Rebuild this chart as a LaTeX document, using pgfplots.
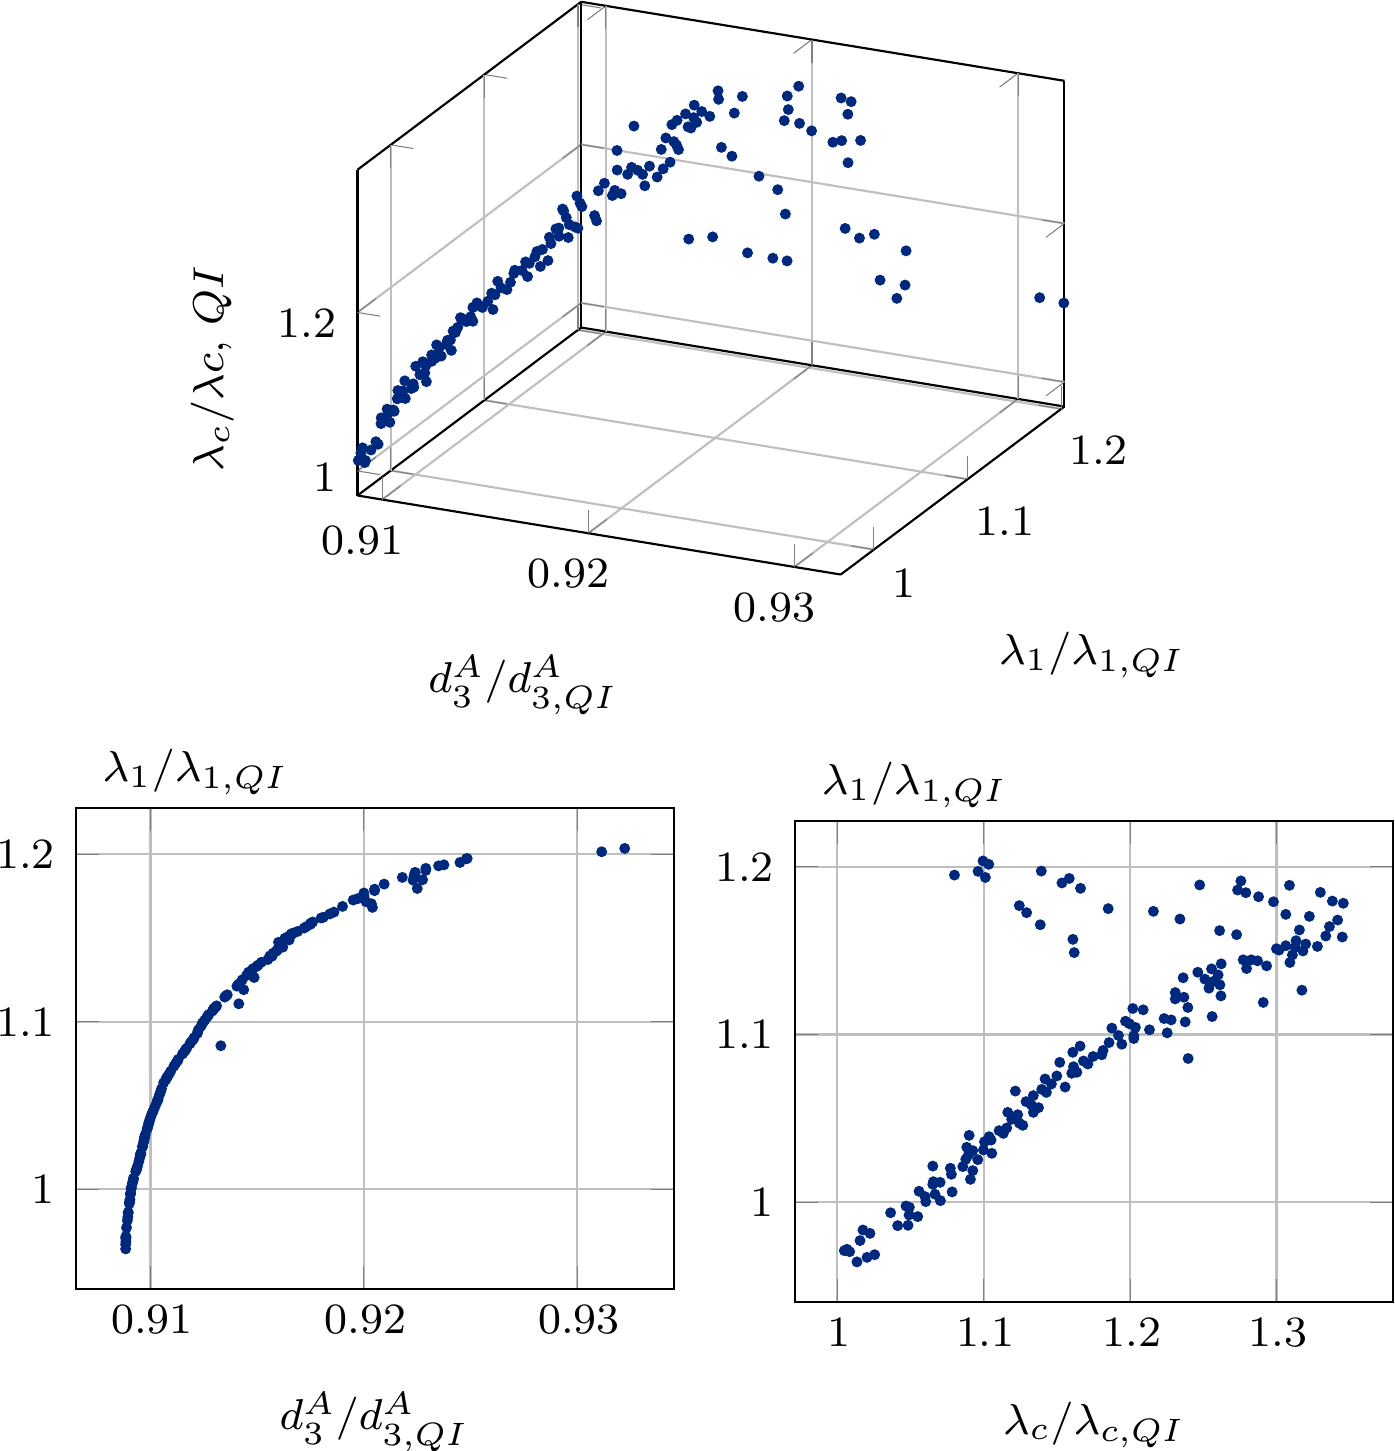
\documentclass[border=0pt]{standalone}
\usepackage{pgfplots}
\usepackage{pgfplotstable}
\pgfplotsset{compat=1.18}
\definecolor{dotblue}{RGB}{0,40,125}
% d3 ratio, lambda_1 ratio, lambda_c ratio
\pgfplotstableread{
d l c
0.90885 0.9712 1.0048
0.90885 0.9720 1.0066
0.90885 0.9706 1.0084
0.90884 0.9645 1.0134
0.90884 0.9672 1.0203
0.90885 0.9688 1.0255
0.90888 0.9772 1.0155
0.90894 0.9835 1.0175
0.90892 0.9815 1.0223
0.90904 0.9938 1.0364
0.90896 0.9861 1.0412
0.90896 0.9863 1.0483
0.90902 0.9925 1.0490
0.90907 0.9978 1.0469
0.90906 0.9970 1.0492
0.90901 0.9915 1.0549
0.90910 1.0004 1.0604
0.90915 1.0034 1.0599
0.90921 1.0066 1.0558
0.90918 1.0048 1.0667
0.90910 1.0010 1.0704
0.90920 1.0062 1.0784
0.90931 1.0107 1.0652
0.90936 1.0123 1.0656
0.90935 1.0119 1.0702
0.90955 1.0216 1.0652
0.90953 1.0203 1.0772
0.90946 1.0167 1.0779
0.90954 1.0213 1.0857
0.90939 1.0137 1.0909
0.90950 1.0189 1.0925
0.90963 1.0254 1.0959
0.90963 1.0256 1.0877
0.90968 1.0282 1.0895
0.90976 1.0328 1.0884
0.90972 1.0308 1.0925
0.90993 1.0399 1.0900
0.90973 1.0312 1.0998
0.90970 1.0292 1.1055
0.90985 1.0361 1.1005
0.90992 1.0391 1.1037
0.90987 1.0371 1.1050
0.91000 1.0427 1.1105
0.90996 1.0411 1.1134
0.91004 1.0443 1.1157
0.91035 1.0536 1.1164
0.91022 1.0495 1.1191
0.91031 1.0522 1.1232
0.91014 1.0471 1.1244
0.91010 1.0459 1.1267
0.91075 1.0663 1.1216
0.91052 1.0600 1.1289
0.91062 1.0636 1.1339
0.91047 1.0580 1.1326
0.91035 1.0536 1.1339
0.91042 1.0564 1.1374
0.91080 1.0673 1.1396
0.91072 1.0655 1.1428
0.91110 1.0735 1.1419
0.91095 1.0705 1.1462
0.91119 1.0753 1.1499
0.91087 1.0687 1.1556
0.91165 1.0834 1.1519
0.91128 1.0769 1.1601
0.91150 1.0808 1.1613
0.91130 1.0775 1.1636
0.91200 1.0894 1.1608
0.91220 1.0931 1.1658
0.91170 1.0842 1.1681
0.91160 1.0824 1.1711
0.91185 1.0869 1.1747
0.91190 1.0879 1.1806
0.91205 1.0905 1.1815
0.91225 1.0952 1.1856
0.91222 1.0942 1.1943
0.91245 1.0994 1.1920
0.91270 1.1038 1.1875
0.91298 1.1079 1.1968
0.91290 1.1064 1.1995
0.91354 1.1155 1.2018
0.91273 1.1042 1.2036
0.91245 1.0992 1.2025
0.91238 1.0976 1.2025
0.91348 1.1147 1.2089
0.91265 1.1028 1.2132
0.91310 1.1095 1.2232
0.91305 1.1087 1.2280
0.91255 1.1010 1.2253
0.91295 1.1075 1.2376
0.91330 1.0857 1.2396
0.91430 1.1250 1.2308
0.91405 1.1212 1.2308
0.91412 1.1222 1.2367
0.91360 1.1161 1.2394
0.91505 1.1338 1.2362
0.91550 1.1371 1.2462
0.91498 1.1330 1.2510
0.91570 1.1391 1.2556
0.91520 1.1355 1.2601
0.91480 1.1316 1.2567
0.91460 1.1296 1.2613
0.91450 1.1276 1.2538
0.91420 1.1230 1.2620
0.91414 1.1107 1.2560
0.91590 1.1421 1.2622
0.91560 1.1393 1.2795
0.91620 1.1445 1.2772
0.91610 1.1445 1.2827
0.91600 1.1439 1.2870
0.91575 1.1409 1.2932
0.91437 1.1191 1.2909
0.91595 1.1429 1.3091
0.91486 1.1264 1.3173
0.92450 1.1950 1.0800
0.93222 1.2034 1.0995
0.93114 1.2014 1.1034
0.92480 1.1972 1.0961
0.92375 1.1936 1.1011
0.92484 1.1974 1.1393
0.92290 1.1903 1.1534
0.92350 1.1930 1.1584
0.92235 1.1871 1.1661
0.92000 1.1768 1.1243
0.91950 1.1726 1.1293
0.91860 1.1654 1.1386
0.91730 1.1567 1.1609
0.91650 1.1488 1.1618
0.92000 1.1750 1.1850
0.91970 1.1734 1.2159
0.91900 1.1688 1.2340
0.92240 1.1891 1.2475
0.92290 1.1915 1.2756
0.92180 1.1861 1.2734
0.92230 1.1845 1.2790
0.92095 1.1821 1.2877
0.92050 1.1791 1.2979
0.92240 1.1889 1.3088
0.92275 1.1847 1.3299
0.92250 1.1795 1.3381
0.92050 1.1782 1.3456
0.92010 1.1716 1.3063
0.92035 1.1704 1.3224
0.92040 1.1682 1.3417
0.91840 1.1643 1.3361
0.91810 1.1623 1.3156
0.91800 1.1619 1.2611
0.91760 1.1595 1.2727
0.91750 1.1587 1.3336
0.91750 1.1581 1.3449
0.91720 1.1559 1.3133
0.91690 1.1539 1.3199
0.91660 1.1525 1.3279
0.91650 1.1511 1.2999
0.91640 1.1503 1.3017
0.91670 1.1529 1.3063
0.91660 1.1519 1.3127
0.91630 1.1498 1.3180
0.91600 1.1474 1.3108
}\pts
\pgfplotsset{
  dots/.style={only marks, mark=*, mark size=0.8pt, color=dotblue},
  /pgf/number format/assume math mode=true,
}
\begin{document}
\fontsize{8}{10}\selectfont
\begin{tikzpicture}
\begin{axis}[
    anchor=south west, at={(66.2pt,162.31pt)},
    x={(3816pt,-624pt)}, y={(173.4pt,130.2pt)}, z={(0pt,146.76pt)},
    xmin=0.9088, xmax=0.93225,
    ymin=0.9645, ymax=1.2034,
    zmin=0.969, zmax=1.380,
    xtick={0.91,0.92,0.93}, ytick={1,1.1,1.2}, ztick={1,1.2},
    xticklabel style={xshift=-0.3pt, yshift=-0.8pt},
    yticklabel style={xshift=0.8pt, yshift=-0.5pt},
    zticklabel style={xshift=-1pt},
    grid=major, clip=false,
]
\addplot3[dots] table[x=d, y=l, z=c] {\pts};
\end{axis}
\begin{axis}[
    anchor=south west, at={(14.02pt,29.94pt)},
    scale only axis, width=110.8pt, height=89.07pt,
    xmin=0.9065, xmax=0.93453, ymin=0.9404, ymax=1.2273,
    xtick={0.91,0.92,0.93}, ytick={1,1.1,1.2},
    xticklabel style={xshift=0.3pt},
    yticklabel style={xshift=-1pt},
    grid=major,
    xlabel={$d_3^A/d_{3,QI}^A$},
    xlabel style={at={(axis description cs:0.499,-0.276)}, anchor=center},
    ylabel={$\lambda_1/\lambda_{1,QI}$},
    ylabel style={rotate=-90, at={(axis description cs:0.2,0.995)}, anchor=south},
]
\addplot[dots] table[x=d, y=l] {\pts};
\end{axis}
\begin{axis}[
    anchor=south west, at={(147.17pt,27.59pt)},
    scale only axis, width=110.87pt, height=89.07pt,
    xmin=0.9709, xmax=1.3798, ymin=0.9406, ymax=1.2272,
    xtick={1,1.1,1.2,1.3}, ytick={1,1.1,1.2},
    xticklabel style={xshift=0.3pt},
    yticklabel style={xshift=-1pt},
    grid=major,
    xlabel={$\lambda_c/\lambda_{c,QI}$},
    xlabel style={at={(axis description cs:0.5,-0.256)}, anchor=center},
    ylabel={$\lambda_1/\lambda_{1,QI}$},
    ylabel style={rotate=-90, at={(axis description cs:0.2,0.995)}, anchor=south},
]
\addplot[dots] table[x=c, y=l] {\pts};
\end{axis}
% labels of the 3D axis, placed by hand
\node at (96.85pt,141.85pt) {$d_3^A/d_{3,QI}^A$};
\node at (202.2pt,147.4pt) {$\lambda_1/\lambda_{1,QI}$};
\node[rotate=90] at (39.44pt,200.4pt) {$\lambda_c/\lambda c,\,QI$};
\pgfresetboundingbox
\path[use as bounding box] (0,0) rectangle (258.33pt,268.7pt);
\end{tikzpicture}
\end{document}
